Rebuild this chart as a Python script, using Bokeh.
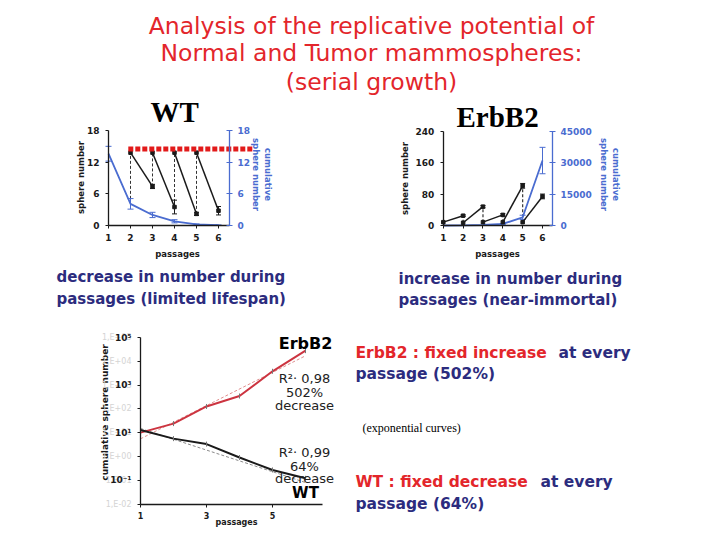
import numpy as np
from bokeh.plotting import figure
from bokeh.models import Range1d, LinearAxis, LogAxis, FixedTicker, LogScale
from bokeh.core.properties import value
from bokeh.embed import file_html
from bokeh.resources import INLINE

# ---------------- data ----------------
title_lines = ["Analysis of the replicative potential of",
               "Normal and Tumor mammospheres:",
               "(serial growth)"]
passages = [1, 2, 3, 4, 5, 6]

# WT (top left): sphere number per passage (black) and cumulative (blue)
wt_cumulative = [13.6, 4.1, 2.0, 0.8, 0.2, 0.06]
wt_cumulative_err = [1.4, 1.0, 0.5, 0.3, 0.1, 0.05]
wt_start_x = [2, 3, 4, 5]
wt_start_y = [13.8, 13.8, 13.8, 13.8]
wt_end_x = [3, 4, 5, 6]
wt_end_y = [7.4, 3.5, 2.2, 2.8]
wt_end_err = [0.4, 1.3, 0.3, 0.8]
wt_link_low = [4.1, 7.4, 3.5, 2.2]
wt_plateau_x = [1.9, 7.55]
wt_plateau_y = [14.5, 14.5]
wt_left_ticks = [0, 6, 12, 18]
wt_right_ticks = [0, 6, 12, 18]

# ErbB2 (top right)
eb_start_x = [1, 2, 3, 4, 5]
eb_start_y = [8.5, 7.0, 8.5, 8.5, 8.5]
eb_end_x = [2, 3, 4, 5, 6]
eb_end_y = [25, 48, 27, 101, 74]
eb_end_err = [2, 3, 3, 6, 6]
eb_cumulative = [10, 50, 250, 750, 3900, 31000]
eb_cumulative_err = [0, 0, 0, 200, 1000, 6300]
eb_left_ticks = [0, 80, 160, 240]
eb_right_ticks = [0, 15000, 30000, 45000]

# log chart (bottom left)
log_erbb2 = [10, 24, 126, 347, 3800, 28000]
log_wt = [12.8, 5.6, 3.3, 0.9, 0.27, 0.12]
fit_x = [1, 6]
fit_erbb2 = [5.5, 17000]
fit_wt = [15, 0.08]
log_ticks = [1e5, 1e4, 1e3, 1e2, 1e1, 1e0, 1e-1, 1e-2]
log_bold_labels = ["10⁵", "", "10³", "", "10¹", "", "10⁻¹", ""]
log_ghost_labels = ["1,E+05", "1,E+04", "1,E+03", "1,E+02", "1,E+01", "1,E+00", "1,E-01", "1,E-02"]
log_x_ticks = [1, 3, 5]

# ---------------- styles ----------------
RED = "#e3262b"
NAVY = "#2c2c7e"
BLUE = "#4a6cd0"
DARK = "#1a1a1a"
FONT = "DejaVu Sans"

W, H = 712, 532


def Y(ry):
    return 540 - ry


def span(d0, p0, d1, p1, lo, hi, log=False):
    if log:
        d0, d1 = np.log10(d0), np.log10(d1)
    k = (d1 - d0) / (p1 - p0)
    a = d0 + (lo - p0) * k
    b = d0 + (hi - p0) * k
    if log:
        a, b = 10 ** a, 10 ** b
    return Range1d(float(a), float(b))


def xr(d0, p0, d1, p1, log=False):
    return span(d0, p0, d1, p1, 0, W, log)


def yr(d0, p0, d1, p1, log=False):
    return span(d0, p0, d1, p1, H, 0, log)


p = figure(width=W, height=H, x_range=Range1d(0, W), y_range=Range1d(540 - H, 540),
           output_backend="svg", toolbar_location=None,
           x_axis_type=None, y_axis_type=None, min_border=0,
           outline_line_color=None)
p.background_fill_color = "white"

p.extra_x_ranges = {
    "wt_x": xr(1, 108, 6, 218),
    "eb_x": xr(1, 442.8, 6, 542),
    "lg_x": xr(1, 140, 6, 305),
}
p.extra_y_ranges = {
    "wt_y": yr(0, 225, 18, 130),
    "eb_yl": yr(0, 225, 240, 130.7),
    "eb_yr": yr(0, 225, 45000, 130.7),
    "lg_y": yr(1e-2, 503.5, 1e5, 337, log=True),
}
p.extra_y_scales = {"lg_y": LogScale()}


def make_axis(cls, xname, yname, loc, bounds, ticks, color, labels=None,
              tin=0, tout=3, size="9px", standoff=3, style="bold", line=True):
    ax = cls(x_range_name=xname, y_range_name=yname, fixed_location=loc,
             bounds=bounds, ticker=FixedTicker(ticks=ticks, minor_ticks=[]))
    ax.axis_line_color = color if line else None
    ax.axis_line_width = 1.3
    ax.major_tick_line_color = color if line else None
    ax.major_tick_in = tin
    ax.major_tick_out = tout
    ax.minor_tick_line_color = None
    ax.major_label_text_color = color
    ax.major_label_text_font = FONT
    ax.major_label_text_font_size = size
    ax.major_label_text_font_style = style
    ax.major_label_standoff = standoff
    if labels is not None:
        ax.major_label_overrides = labels
    return ax


# ---- WT chart axes ----
p.add_layout(make_axis(LinearAxis, "wt_x", "wt_y", 1, (0, 18), wt_left_ticks, DARK, standoff=6), "left")
p.add_layout(make_axis(LinearAxis, "wt_x", "wt_y", 6.5, (0, 18), wt_right_ticks, BLUE, tin=3, tout=3, standoff=5), "right")
p.add_layout(make_axis(LinearAxis, "wt_x", "wt_y", 0, (1, 6.5), passages, DARK, tout=3, standoff=5), "below")

# ---- ErbB2 chart axes ----
p.add_layout(make_axis(LinearAxis, "eb_x", "eb_yl", 1, (0, 240), eb_left_ticks, DARK, standoff=6), "left")
p.add_layout(make_axis(LinearAxis, "eb_x", "eb_yr", 6.5, (0, 45000), eb_right_ticks, BLUE, tin=3, tout=3, standoff=5), "right")
p.add_layout(make_axis(LinearAxis, "eb_x", "eb_yl", 0, (1, 6.5), passages, DARK, tout=3, standoff=5), "below")

# ---- log chart axes ----
ghost = make_axis(LogAxis, "lg_x", "lg_y", 1, (1e-2, 1e5), log_ticks, "#d4d4d4",
                  labels={t: s for t, s in zip(log_ticks, log_ghost_labels)},
                  size="8px", standoff=6, style="normal", line=False)
p.add_layout(ghost, "left")
p.add_layout(make_axis(LogAxis, "lg_x", "lg_y", 1, (1e-2, 1e5), log_ticks, DARK,
                       labels={t: s for t, s in zip(log_ticks, log_bold_labels)},
                       tout=3, size="9px", standoff=6), "left")
p.add_layout(make_axis(LinearAxis, "lg_x", "lg_y", 1e-2, (1, 6.5), log_x_ticks, DARK,
                       tout=3, size="8px", standoff=5), "below")

# ---------------- WT marks ----------------
kw = dict(x_range_name="wt_x", y_range_name="wt_y")
p.segment(x0=wt_start_x, y0=wt_link_low, x1=wt_start_x, y1=wt_start_y,
          line_color="#333333", line_width=1, line_dash="3 2", **kw)
lo = [v - e for v, e in zip(wt_cumulative, wt_cumulative_err)]
hi = [v + e for v, e in zip(wt_cumulative, wt_cumulative_err)]
p.segment(x0=passages, y0=lo, x1=passages, y1=hi, line_color=BLUE, line_width=1, **kw)
p.scatter(passages + passages, lo + hi, marker="dash", size=6, line_color=BLUE, **kw)
p.line(passages, wt_cumulative, line_color=BLUE, line_width=1.8, **kw)
p.segment(x0=wt_start_x, y0=wt_start_y, x1=wt_end_x, y1=wt_end_y,
          line_color=DARK, line_width=1.5, **kw)
elo = [v - e for v, e in zip(wt_end_y, wt_end_err)]
ehi = [v + e for v, e in zip(wt_end_y, wt_end_err)]
p.segment(x0=wt_end_x, y0=elo, x1=wt_end_x, y1=ehi, line_color=DARK, line_width=1, **kw)
p.scatter(wt_end_x + wt_end_x, elo + ehi, marker="dash", size=5, line_color=DARK, **kw)
p.scatter(wt_start_x + wt_end_x, wt_start_y + wt_end_y, marker="square", size=3.5,
          fill_color=DARK, line_color=DARK, **kw)
p.line(wt_plateau_x, wt_plateau_y, line_color="#e21a1a", line_width=5, line_dash="5 2", **kw)

# ---------------- ErbB2 marks ----------------
kwl = dict(x_range_name="eb_x", y_range_name="eb_yl")
kwr = dict(x_range_name="eb_x", y_range_name="eb_yr")
p.segment(x0=eb_start_x[1:], y0=eb_start_y[1:], x1=eb_end_x[:-1], y1=eb_end_y[:-1],
          line_color="#333333", line_width=1.2, line_dash="3 2", **kwl)
clo = [v - e for v, e in zip(eb_cumulative, eb_cumulative_err)]
chi = [v + e for v, e in zip(eb_cumulative, eb_cumulative_err)]
p.segment(x0=passages, y0=clo, x1=passages, y1=chi, line_color=BLUE, line_width=1, **kwr)
p.scatter(passages[3:] + passages[3:], clo[3:] + chi[3:], marker="dash", size=6, line_color=BLUE, **kwr)
p.line(passages, eb_cumulative, line_color=BLUE, line_width=1.8, **kwr)
p.segment(x0=eb_start_x, y0=eb_start_y, x1=eb_end_x, y1=eb_end_y,
          line_color=DARK, line_width=1.5, **kwl)
blo = [v - e for v, e in zip(eb_end_y, eb_end_err)]
bhi = [v + e for v, e in zip(eb_end_y, eb_end_err)]
p.segment(x0=eb_end_x, y0=blo, x1=eb_end_x, y1=bhi, line_color=DARK, line_width=1, **kwl)
p.scatter(eb_end_x + eb_end_x, blo + bhi, marker="dash", size=5, line_color=DARK, **kwl)
p.scatter(eb_start_x + eb_end_x, eb_start_y + eb_end_y, marker="square", size=3.5,
          fill_color=DARK, line_color=DARK, **kwl)

# ---------------- log chart marks ----------------
kg = dict(x_range_name="lg_x", y_range_name="lg_y")
p.line(fit_x, fit_erbb2, line_color="#e09090", line_width=1, line_dash="3 2", **kg)
p.line(fit_x, fit_wt, line_color="#8a8a8a", line_width=1, line_dash="3 2", **kg)
p.line(passages, log_erbb2, line_color="#cc3440", line_width=2, **kg)
p.line(passages, log_wt, line_color="#1a1a1a", line_width=2, **kg)
p.scatter(passages + passages, log_erbb2 + log_wt, marker="dash", angle=np.pi / 2, size=5,
          line_color="#777777", **kg)

# ---------------- texts ----------------
def txt(x, y, s, size, color=DARK, font=FONT, style="normal", align="left", angle=0.0):
    p.text(x=[x], y=[Y(y)], text=[s], text_font=value(font), text_font_size=size,
           text_font_style=style, text_color=color, text_align=align,
           text_baseline="middle", angle=angle)

for line, yy in zip(title_lines, [25, 52.5, 81]):
    txt(371, yy, line, "23.5px", RED, align="center")

txt(150, 111, "WT", "29px", "black", font="Liberation Serif", style="bold")
txt(456, 116, "ErbB2", "29px", "black", font="Liberation Serif", style="bold")

# axis titles of the top charts
txt(80, 177, "sphere number", "8.5px", DARK, style="bold", align="center", angle=np.pi / 2)
txt(261.5, 174, "cumulative\nsphere number", "8.5px", BLUE, style="bold", align="center", angle=-np.pi / 2)
txt(177, 253, "passages", "8.5px", DARK, style="bold", align="center")
txt(404, 178, "sphere number", "8.5px", DARK, style="bold", align="center", angle=np.pi / 2)
txt(609.5, 174, "cumulative\nsphere number", "8.5px", BLUE, style="bold", align="center", angle=-np.pi / 2)
txt(497, 253, "passages", "8.5px", DARK, style="bold", align="center")

# middle descriptions
txt(56, 276, "decrease in number during", "15px", NAVY, style="bold")
txt(56, 298, "passages (limited lifespan)", "15px", NAVY, style="bold")
txt(398, 278, "increase in number during", "15px", NAVY, style="bold")
txt(398, 299, "passages (near-immortal)", "15px", NAVY, style="bold")

# log chart texts
txt(104, 412, "cumulative sphere number", "9px", DARK, style="bold", align="center", angle=np.pi / 2)
txt(236, 522, "passages", "8px", DARK, style="bold", align="center")
txt(305, 343, "ErbB2", "16px", "black", style="bold", align="center")
txt(304, 378, "R²· 0,98", "13px", "#222222", align="center")
txt(304, 392, "502%", "13px", "#222222", align="center")
txt(304, 405, "decrease", "13px", "#222222", align="center")
txt(304, 452, "R²· 0,99", "13px", "#222222", align="center")
txt(304, 466, "64%", "13px", "#222222", align="center")
txt(304, 478, "decrease", "13px", "#222222", align="center")
txt(305, 492, "WT", "15px", "black", style="bold", align="center")

# right column texts
txt(355, 352, "ErbB2 : fixed increase", "15.5px", RED, style="bold")
txt(558, 352, "at every", "15.5px", NAVY, style="bold")
txt(355, 373, "passage (502%)", "15.5px", NAVY, style="bold")
txt(362, 427, "(exponential curves)", "12px", "black", font="Liberation Serif")
txt(355, 481, "WT : fixed decrease", "15.5px", RED, style="bold")
txt(540, 481, "at every", "15.5px", NAVY, style="bold")
txt(355, 503, "passage (64%)", "15.5px", NAVY, style="bold")

open("out.html", "w").write(file_html(p, INLINE))
